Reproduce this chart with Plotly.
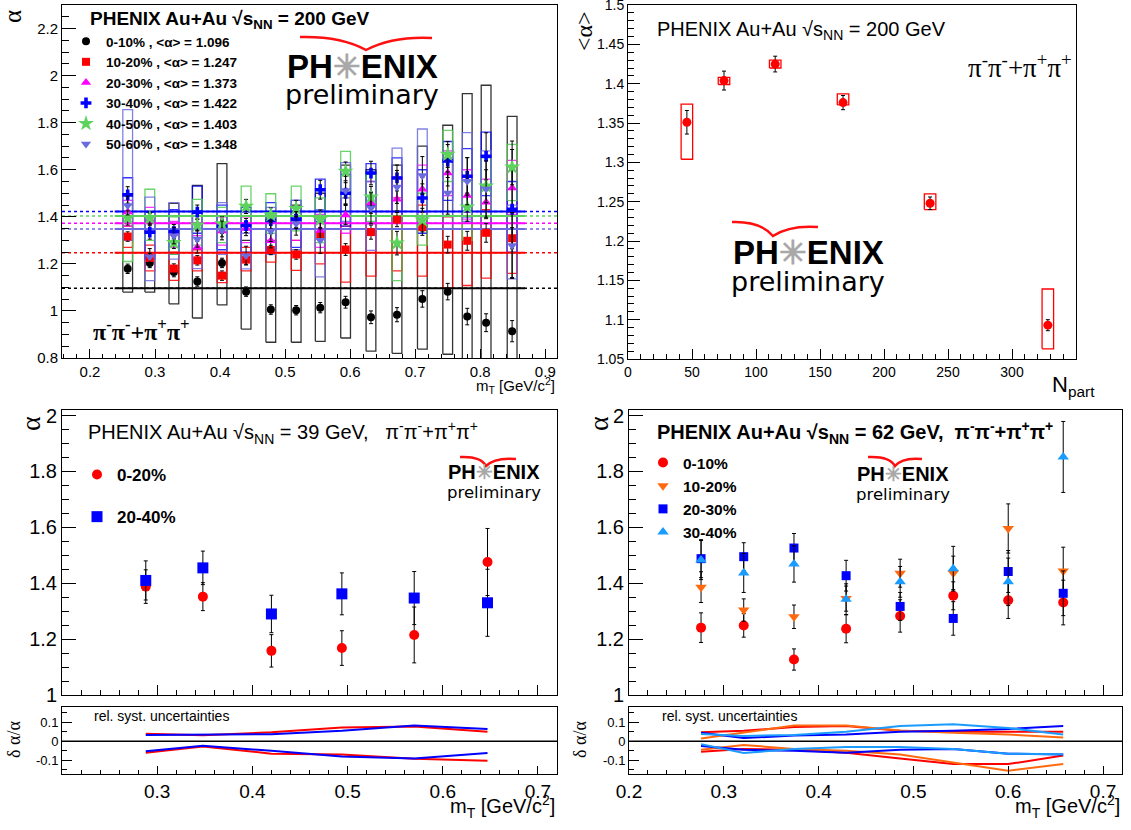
import plotly.graph_objects as go

W, H = 1131, 830


def px(x):
    return x / W


def py(y):
    return 1 - y / H


# ============ DATA: Au+Au 200 GeV, alpha vs mT (top-left) ============
mt_200 = [0.258, 0.292, 0.329, 0.365, 0.403, 0.440, 0.478, 0.517, 0.554, 0.593,
          0.632, 0.672, 0.711, 0.750, 0.780, 0.809, 0.849]
cent_200 = ["0-10%", "10-20%", "20-30%", "30-40%", "40-50%", "50-60%"]
mean_alpha_200 = [1.096, 1.247, 1.373, 1.422, 1.403, 1.348]

alpha_0_10 = [1.179, 1.204, 1.165, 1.125, 1.204, 1.082, 1.006, 1.003, 1.014, 1.037,
              0.973, 0.984, 1.051, 1.082, 0.976, 0.950, 0.914]
stat_0_10 = [0.02, 0.02, 0.02, 0.02, 0.02, 0.02, 0.02, 0.02, 0.022, 0.025,
             0.027, 0.03, 0.035, 0.035, 0.035, 0.038, 0.045]
syslo_0_10 = [1.08, 1.08, 1.03, 0.97, 1.026, 0.923, 0.867, 0.867, 0.871, 0.885,
              0.829, 0.82, 0.838, 0.816, 0.776, 0.75, 0.714]
syshi_0_10 = [1.40, 1.42, 1.457, 1.533, 1.626, 1.30, 1.40, 1.45, 1.50, 1.62,
              1.60, 1.62, 1.70, 1.789, 1.923, 1.959, 1.827]

alpha_10_20 = [1.316, 1.225, 1.18, 1.215, 1.15, 1.218, 1.259, 1.24, 1.32, 1.261,
               1.335, 1.388, 1.356, 1.282, 1.298, 1.332, 1.309]
stat_10_20 = [0.02, 0.02, 0.02, 0.02, 0.02, 0.02, 0.02, 0.02, 0.025, 0.025,
              0.03, 0.03, 0.035, 0.035, 0.04, 0.04, 0.045]
syslo_10_20 = [1.27, 1.17, 1.13, 1.17, 1.12, 1.17, 1.207, 1.172, 1.20, 1.122,
               1.148, 1.17, 1.148, 1.098, 1.108, 1.139, 1.16]
syshi_10_20 = [1.36, 1.28, 1.25, 1.26, 1.25, 1.27, 1.30, 1.30, 1.40, 1.36,
               1.45, 1.48, 1.45, 1.40, 1.42, 1.43, 1.42]

alpha_20_30 = [1.42, 1.39, 1.33, 1.271, 1.34, 1.35, 1.298, 1.38, 1.342, 1.408,
               1.46, 1.475, 1.517, 1.586, 1.491, 1.462, 1.522]
stat_20_30 = [0.03, 0.025, 0.025, 0.025, 0.025, 0.03, 0.03, 0.03, 0.035, 0.04,
              0.045, 0.05, 0.05, 0.055, 0.06, 0.07, 0.08]
syslo_20_30 = [1.36, 1.33, 1.27, 1.22, 1.28, 1.29, 1.25, 1.30, 1.27, 1.33,
               1.37, 1.39, 1.42, 1.49, 1.39, 1.37, 1.41]
syshi_20_30 = [1.47, 1.44, 1.38, 1.32, 1.40, 1.40, 1.35, 1.44, 1.41, 1.48,
               1.55, 1.57, 1.62, 1.68, 1.60, 1.56, 1.64]

alpha_30_40 = [1.493, 1.335, 1.337, 1.42, 1.36, 1.363, 1.384, 1.39, 1.515, 1.50,
               1.586, 1.565, 1.48, 1.637, 1.572, 1.657, 1.432]
stat_30_40 = [0.035, 0.03, 0.03, 0.03, 0.03, 0.03, 0.035, 0.035, 0.04, 0.045,
              0.05, 0.055, 0.06, 0.07, 0.08, 0.1, 0.29]
syslo_30_40 = [1.40, 1.22, 1.24, 1.33, 1.26, 1.25, 1.26, 1.27, 1.38, 1.36,
               1.45, 1.40, 1.33, 1.47, 1.40, 1.49, 1.25]
syshi_30_40 = [1.566, 1.42, 1.43, 1.53, 1.45, 1.44, 1.46, 1.47, 1.56, 1.58,
               1.626, 1.65, 1.60, 1.72, 1.69, 1.76, 1.55]

alpha_40_50 = [1.395, 1.395, 1.29, 1.365, 1.37, 1.444, 1.408, 1.435, 1.389, 1.593,
               1.484, 1.288, 1.386, 1.665, 1.441, 1.53, 1.611]
stat_40_50 = [0.03, 0.025, 0.025, 0.025, 0.03, 0.03, 0.03, 0.035, 0.04, 0.04,
              0.045, 0.05, 0.05, 0.055, 0.06, 0.07, 0.075]
syslo_40_50 = [1.21, 1.30, 1.24, 1.28, 1.29, 1.36, 1.33, 1.34, 1.29, 1.48,
               1.38, 1.129, 1.28, 1.55, 1.30, 1.40, 1.469]
syshi_40_50 = [1.45, 1.517, 1.40, 1.474, 1.44, 1.53, 1.498, 1.53, 1.48, 1.678,
               1.58, 1.40, 1.50, 1.767, 1.55, 1.65, 1.708]

alpha_50_60 = [1.448, 1.23, 1.32, 1.306, 1.342, 1.235, 1.34, 1.372, 1.30, 1.512,
               1.437, 1.527, 1.576, 1.501, 1.551, 1.518, 1.278]
stat_50_60 = [0.04, 0.035, 0.035, 0.035, 0.04, 0.04, 0.045, 0.05, 0.055, 0.06,
              0.065, 0.07, 0.08, 0.09, 0.1, 0.12, 0.14]
syslo_50_60 = [1.30, 1.129, 1.22, 1.18, 1.24, 1.179, 1.24, 1.26, 1.145, 1.38,
               1.257, 1.38, 1.40, 1.35, 1.38, 1.35, 1.136]
syshi_50_60 = [1.855, 1.484, 1.46, 1.42, 1.46, 1.33, 1.44, 1.47, 1.43, 1.63,
               1.55, 1.692, 1.773, 1.65, 1.758, 1.68, 1.45]

# ============ DATA: <alpha> vs Npart (top-right) ============
npart = [46, 75, 115, 168, 236, 328]
mean_alpha = [1.351, 1.404, 1.425, 1.376, 1.248, 1.093]
mean_alpha_stat = [0.015, 0.012, 0.010, 0.009, 0.008, 0.007]
mean_alpha_syslo = [1.304, 1.399, 1.420, 1.373, 1.240, 1.063]
mean_alpha_syshi = [1.374, 1.408, 1.430, 1.387, 1.260, 1.139]

# ============ DATA: Au+Au 39 GeV (bottom-left) ============
mt_39 = [0.288, 0.348, 0.420, 0.494, 0.570, 0.647]
cent_39 = ["0-20%", "20-40%"]
alpha39_0_20 = [1.388, 1.352, 1.158, 1.168, 1.215, 1.476]
stat39_0_20 = [0.06, 0.05, 0.058, 0.062, 0.10, 0.12]
alpha39_20_40 = [1.41, 1.455, 1.29, 1.362, 1.347, 1.33]
stat39_20_40 = [0.07, 0.06, 0.067, 0.075, 0.095, 0.12]
relsys39_up_0_20 = [0.040, 0.031, 0.047, 0.072, 0.078, 0.050]
relsys39_dn_0_20 = [-0.060, -0.028, -0.065, -0.070, -0.092, -0.102]
relsys39_up_20_40 = [0.033, 0.035, 0.037, 0.055, 0.083, 0.065]
relsys39_dn_20_40 = [-0.052, -0.024, -0.050, -0.080, -0.090, -0.062]

# ============ DATA: Au+Au 62 GeV (bottom-right) ============
mt_62 = [0.276, 0.321, 0.374, 0.429, 0.486, 0.542, 0.600, 0.658]
cent_62 = ["0-10%", "10-20%", "20-30%", "30-40%"]
alpha62_0_10 = [1.241, 1.249, 1.127, 1.237, 1.283, 1.355, 1.339, 1.331]
stat62_0_10 = [0.053, 0.042, 0.038, 0.05, 0.058, 0.05, 0.065, 0.08]
alpha62_10_20 = [1.386, 1.304, 1.280, 1.345, 1.436, 1.437, 1.596, 1.444]
stat62_10_20 = [0.055, 0.04, 0.042, 0.045, 0.05, 0.06, 0.088, 0.085]
alpha62_20_30 = [1.488, 1.495, 1.526, 1.427, 1.317, 1.274, 1.442, 1.364]
stat62_20_30 = [0.068, 0.05, 0.052, 0.055, 0.05, 0.06, 0.075, 0.08]
alpha62_30_40 = [1.483, 1.437, 1.469, 1.343, 1.405, 1.452, 1.405, 1.852]
stat62_30_40 = [0.07, 0.07, 0.065, 0.055, 0.055, 0.08, 0.085, 0.127]
relsys62_up_0_10 = [0.048, 0.055, 0.075, 0.080, 0.055, 0.050, 0.050, 0.050]
relsys62_dn_0_10 = [-0.055, -0.040, -0.045, -0.060, -0.090, -0.120, -0.120, -0.075]
relsys62_up_10_20 = [0.015, 0.048, 0.083, 0.083, 0.057, 0.045, 0.035, 0.020]
relsys62_dn_10_20 = [-0.045, -0.020, -0.040, -0.050, -0.070, -0.110, -0.155, -0.120]
relsys62_up_20_30 = [0.045, 0.017, 0.030, 0.035, 0.050, 0.055, 0.065, 0.080]
relsys62_dn_20_30 = [-0.025, -0.045, -0.050, -0.060, -0.045, -0.040, -0.065, -0.070]
relsys62_up_30_40 = [0.038, 0.028, 0.033, 0.050, 0.080, 0.090, 0.070, 0.035]
relsys62_dn_30_40 = [-0.015, -0.062, -0.040, -0.030, -0.030, -0.040, -0.065, -0.068]

# ============ STYLE ============
FONT = "Liberation Sans, Arial, sans-serif"
SERIF = "Liberation Serif, Times New Roman, serif"
LOGOFONT = "DejaVu Sans, sans-serif"

col200 = ["#000000", "#ff0000", "#ff00ff", "#0000ff", "#5dd35d", "#6b6be0"]
boxcol200 = ["rgba(0,0,0,0.8)", "rgba(255,0,0,0.85)", "rgba(255,0,255,0.8)",
             "rgba(0,0,255,0.8)", "rgba(80,205,80,0.85)", "rgba(107,107,224,0.85)"]
sym200 = ["circle", "square", "triangle-up", "cross", "star", "triangle-down"]
size200 = [8, 8, 9, 9, 12, 9]

alpha200 = [alpha_0_10, alpha_10_20, alpha_20_30, alpha_30_40, alpha_40_50, alpha_50_60]
stat200 = [stat_0_10, stat_10_20, stat_20_30, stat_30_40, stat_40_50, stat_50_60]
syslo200 = [syslo_0_10, syslo_10_20, syslo_20_30, syslo_30_40, syslo_40_50, syslo_50_60]
syshi200 = [syshi_0_10, syshi_10_20, syshi_20_30, syshi_30_40, syshi_40_50, syshi_50_60]

XR_TL = [0.157, 0.918]
YR_TL = [0.8, 2.3]
XR_TR = [0, 350]
YR_TR = [1.05, 1.5001]
XR_B = [0.2, 0.72]
YR_B = [1.0, 2.02]
YR_S = [-0.172, 0.18]


def box_path(xs, lo, hi, hw):
    X, Y = [], []
    for x, l, h in zip(xs, lo, hi):
        X += [x - hw, x + hw, x + hw, x - hw, x - hw, None]
        Y += [l, l, h, h, l, None]
    return X, Y


fig = go.Figure()

# ---------- top-left ----------
for i in range(6):
    bx, by = box_path(mt_200, syslo200[i], syshi200[i], 0.0075)
    fig.add_trace(go.Scatter(x=bx, y=by, mode="lines", xaxis="x", yaxis="y",
                             line=dict(color=boxcol200[i], width=1.3),
                             showlegend=False, hoverinfo="skip"))
for i in range(6):
    fig.add_trace(go.Scatter(x=XR_TL, y=[mean_alpha_200[i]] * 2, mode="lines",
                             xaxis="x", yaxis="y",
                             line=dict(color=col200[i], width=1.5, dash="3px,3px"),
                             showlegend=False, hoverinfo="skip"))
    fig.add_trace(go.Scatter(x=[mt_200[0] - 0.02, mt_200[-1] + 0.02],
                             y=[mean_alpha_200[i]] * 2, mode="lines",
                             xaxis="x", yaxis="y",
                             line=dict(color=col200[i], width=2),
                             showlegend=False, hoverinfo="skip"))
for i in range(6):
    fig.add_trace(go.Scatter(
        x=mt_200, y=alpha200[i], mode="markers", xaxis="x", yaxis="y",
        marker=dict(symbol=sym200[i], size=size200[i], color=col200[i],
                    line=dict(width=0)),
        error_y=dict(type="data", array=stat200[i], color="black", thickness=1, width=2),
        name="<b>%s , &lt;α&gt; = %.3f</b>" % (cent_200[i], mean_alpha_200[i]),
        legend="legend", showlegend=True))

# ---------- top-right ----------
bx, by = box_path(npart, mean_alpha_syslo, mean_alpha_syshi, 4.5)
fig.add_trace(go.Scatter(x=bx, y=by, mode="lines", xaxis="x2", yaxis="y2",
                         line=dict(color="#ff0000", width=1.3),
                         showlegend=False, hoverinfo="skip"))
fig.add_trace(go.Scatter(x=npart, y=mean_alpha, mode="markers", xaxis="x2", yaxis="y2",
                         marker=dict(symbol="circle", size=9, color="#ff0000"),
                         error_y=dict(type="data", array=mean_alpha_stat, color="black",
                                      thickness=1, width=2),
                         showlegend=False))

# ---------- bottom-left ----------
col39 = ["#ff0000", "#0000ff"]
sym39 = ["circle", "square"]
alpha39 = [alpha39_0_20, alpha39_20_40]
stat39 = [stat39_0_20, stat39_20_40]
for i in range(2):
    fig.add_trace(go.Scatter(
        x=mt_39, y=alpha39[i], mode="markers", xaxis="x3", yaxis="y3",
        marker=dict(symbol=sym39[i], size=[10, 11][i], color=col39[i]),
        error_y=dict(type="data", array=stat39[i], color="black", thickness=1, width=2),
        name="<b>%s</b>" % cent_39[i], legend="legend2", legendgroup="g39_%d" % i,
        showlegend=True))
fig.add_trace(go.Scatter(x=XR_B, y=[0, 0], mode="lines", xaxis="x4", yaxis="y4",
                         line=dict(color="black", width=1.5), showlegend=False))
for up, dn, c in [(relsys39_up_0_20, relsys39_dn_0_20, col39[0]),
                  (relsys39_up_20_40, relsys39_dn_20_40, col39[1])]:
    for arr in (up, dn):
        fig.add_trace(go.Scatter(x=mt_39, y=arr, mode="lines", xaxis="x4", yaxis="y4",
                                 line=dict(color=c, width=2), showlegend=False))

# ---------- bottom-right ----------
col62 = ["#ff0000", "#ff6a10", "#0000ff", "#1a9cff"]
sym62 = ["circle", "triangle-down", "square", "triangle-up"]
alpha62 = [alpha62_0_10, alpha62_10_20, alpha62_20_30, alpha62_30_40]
stat62 = [stat62_0_10, stat62_10_20, stat62_20_30, stat62_30_40]
for i in range(4):
    fig.add_trace(go.Scatter(
        x=mt_62, y=alpha62[i], mode="markers", xaxis="x5", yaxis="y5",
        marker=dict(symbol=sym62[i], size=[10, 10, 9, 10][i], color=col62[i]),
        error_y=dict(type="data", array=stat62[i], color="black", thickness=1, width=2),
        name="<b>%s</b>" % cent_62[i], legend="legend3", legendgroup="g62_%d" % i,
        showlegend=True))
fig.add_trace(go.Scatter(x=XR_B, y=[0, 0], mode="lines", xaxis="x6", yaxis="y6",
                         line=dict(color="black", width=1.5), showlegend=False))
sys62 = [(relsys62_up_0_10, relsys62_dn_0_10), (relsys62_up_10_20, relsys62_dn_10_20),
         (relsys62_up_20_30, relsys62_dn_20_30), (relsys62_up_30_40, relsys62_dn_30_40)]
for (up, dn), c in zip(sys62, col62):
    for arr in (up, dn):
        fig.add_trace(go.Scatter(x=mt_62, y=arr, mode="lines", xaxis="x6", yaxis="y6",
                                 line=dict(color=c, width=2), showlegend=False))


# ============ AXES ============
def axis(domain, rng, dtick, minor_dtick, anchor, ticklen=10, labels=True,
         fsize=15, tick0=None, tickvals=None, ticktext=None):
    d = dict(domain=domain, range=rng, anchor=anchor, showline=True, linecolor="black",
             linewidth=1, mirror=True, ticks="inside", ticklen=ticklen, tickwidth=1,
             tickcolor="black", showgrid=False, zeroline=False, automargin=False,
             ticklabeloverflow="allow",
             showticklabels=labels, tickfont=dict(family=FONT, size=fsize, color="black"),
             minor=dict(ticks="inside", ticklen=ticklen // 2, dtick=minor_dtick,
                        tickcolor="black", tickwidth=1, showgrid=False))
    if tickvals is not None:
        d["tickmode"] = "array"
        d["tickvals"] = tickvals
        if ticktext is not None:
            d["ticktext"] = ticktext
    else:
        d["dtick"] = dtick
        if tick0 is not None:
            d["tick0"] = tick0
    return d


dom_TLx = [px(62), px(557)]
dom_TLy = [py(358), py(5)]
dom_TRx = [px(628), px(1076)]
dom_TRy = [py(359), py(5)]
dom_BLx = [px(62), px(557)]
dom_BRx = [px(629), px(1122)]
dom_By = [py(695), py(410)]
dom_Sy = [py(774), py(707)]

layout = dict(
    template="none",
    width=W, height=H, margin=dict(l=0, r=0, t=0, b=0, pad=0),
    paper_bgcolor="white", plot_bgcolor="white",
    font=dict(family=FONT, color="black"),
    xaxis=axis(dom_TLx, XR_TL, 0.1, 0.02, "y", ticklen=9, fsize=15, tick0=0.2),
    yaxis=axis(dom_TLy, YR_TL, 0.2, 0.05, "x", ticklen=14, fsize=15, tick0=0.8),
    xaxis2=axis(dom_TRx, XR_TR, 50, 10, "y2", ticklen=10, fsize=14,
                tickvals=[0, 50, 100, 150, 200, 250, 300]),
    yaxis2=axis(dom_TRy, YR_TR, 0.05, 0.01, "x2", ticklen=12, fsize=14, tick0=1.05),
    xaxis3=axis(dom_BLx, XR_B, 0.1, 0.02, "y3", ticklen=10, labels=False, tick0=0.2),
    yaxis3=axis(dom_By, YR_B, 0.2, 0.05, "x3", ticklen=14, fsize=20, tick0=1.0),
    xaxis4=axis(dom_BLx, XR_B, 0.1, 0.02, "y4", ticklen=8, fsize=19,
                tickvals=[0.3, 0.4, 0.5, 0.6, 0.7]),
    yaxis4=axis(dom_Sy, YR_S, 0.1, 0.05, "x4", ticklen=10, fsize=13,
                tickvals=[-0.1, 0, 0.1], ticktext=["-0.1", "0", "0.1"]),
    xaxis5=axis(dom_BRx, XR_B, 0.1, 0.02, "y5", ticklen=10, labels=False, tick0=0.2),
    yaxis5=axis(dom_By, YR_B, 0.2, 0.05, "x5", ticklen=14, fsize=20, tick0=1.0),
    xaxis6=axis(dom_BRx, XR_B, 0.1, 0.02, "y6", ticklen=8, fsize=19,
                tickvals=[0.2, 0.3, 0.4, 0.5, 0.6, 0.7]),
    yaxis6=axis(dom_Sy, YR_S, 0.1, 0.05, "x6", ticklen=10, fsize=13,
                tickvals=[-0.1, 0, 0.1], ticktext=["-0.1", "0", "0.1"]),
    legend=dict(x=px(66), y=py(26), xanchor="left", yanchor="top",
                bgcolor="rgba(0,0,0,0)", font=dict(family=FONT, size=13.5, color="black"),
                tracegroupgap=0),
    legend2=dict(x=px(77), y=py(457), xanchor="left", yanchor="top",
                 bgcolor="rgba(0,0,0,0)", font=dict(family=FONT, size=17, color="black"),
                 tracegroupgap=17),
    legend3=dict(x=px(643), y=py(446), xanchor="left", yanchor="top",
                 bgcolor="rgba(0,0,0,0)", font=dict(family=FONT, size=15.5, color="black"),
                 tracegroupgap=0),
    showlegend=True,
)

PIPI = "π<sup>-</sup>π<sup>-</sup>+π<sup>+</sup>π<sup>+</sup>"
MT = "m<sub>T</sub> [GeV/c<sup>2</sup>]"
SQ = "√s<sub>NN</sub>"

ann = []


def text(x, y, t, size, xanchor="left", family=FONT, angle=0, color="black", yanchor="middle"):
    ann.append(dict(x=px(x), y=py(y), xref="paper", yref="paper", text=t, showarrow=False,
                    xanchor=xanchor, yanchor=yanchor, textangle=angle,
                    font=dict(family=family, size=size, color=color)))


# top-left texts
text(88, 20, "<b>PHENIX Au+Au %s = 200 GeV</b>" % SQ, 19)
text(91, 330, "<b>%s</b>" % PIPI, 24, family=SERIF)
text(13, 17, "α", 25, xanchor="center", family=SERIF, angle=-90)
text(557, 385, MT, 15, xanchor="right")
# top-right texts
text(655, 30, "PHENIX Au+Au %s = 200 GeV" % SQ, 20)
text(966, 66, PIPI, 27, family=SERIF)
text(584, 31, "&lt;α&gt;", 24, xanchor="center", family=SERIF, angle=-90)
text(1097, 386, "N<sub>part</sub>", 22, xanchor="right")
# bottom-left texts
text(86, 432, "PHENIX Au+Au %s = 39 GeV,   %s" % (SQ, PIPI), 20)
text(30, 424, "α", 28, xanchor="center", family=SERIF, angle=-90)
text(92, 716, "rel. syst. uncertainties", 14)
text(14, 740, "δ α/α", 18, xanchor="center", family=SERIF, angle=-90)
text(557, 806, MT, 20, xanchor="right")
# bottom-right texts
text(655, 432, "<b>PHENIX Au+Au %s = 62 GeV,  %s</b>" % (SQ, PIPI), 20)
text(598, 424, "α", 28, xanchor="center", family=SERIF, angle=-90)
text(660, 716, "rel. syst. uncertainties", 14)
text(580, 740, "δ α/α", 18, xanchor="center", family=SERIF, angle=-90)
text(1122, 806, MT, 20, xanchor="right")

shapes = []


def logo(cx, y1, y2, f1, f2, sw):
    text(cx, y1, "<b>PH<span style='color:#a8a8a8'>✳</span>ENIX</b>", f1,
         xanchor="center", family=FONT)
    text(cx, y2, "preliminary", f2, xanchor="center", family=LOGOFONT)
    (x0, ya), (xc, yb), (x1, yc) = sw
    path = "M %f,%f Q %f,%f %f,%f Q %f,%f %f,%f" % (
        px(x0), py(ya), px((x0 + xc) / 2 + 8), py(ya - 1), px(xc), py(yb),
        px((xc + x1) / 2 - 6), py(yc - 2), px(x1), py(yc))
    shapes.append(dict(type="path", xref="paper", yref="paper", path=path,
                       line=dict(color="#ff1010", width=2.5)))


logo(362, 66, 95, 33, 27, [(300, 37), (366, 50), (432, 38)])
logo(808, 252, 281, 33, 27, [(732, 222), (773, 236), (818, 227)])
logo(494, 472, 492, 20, 16.5, [(460, 457), (486, 466), (516, 459)])
logo(903, 474, 494, 20, 16.5, [(868, 457), (895, 466), (922, 459)])

layout["annotations"] = ann
layout["shapes"] = shapes
fig.update_layout(**layout)
fig.write_html("out.html",
               config={"displayModeBar": False},
               post_script="document.body.style.margin='0px';"
                           "document.body.style.overflow='hidden';")
